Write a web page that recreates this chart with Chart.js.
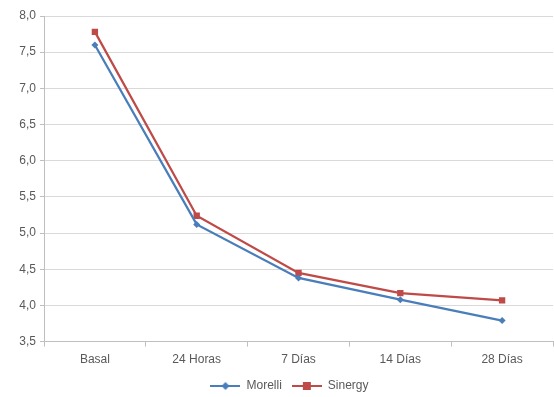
<!DOCTYPE html>
<html>
<head>
<meta charset="utf-8">
<script src="https://cdn.jsdelivr.net/npm/chart.js@4"></script>
<style>
  html, body { margin: 0; padding: 0; background: #fff; }
  #wrap { width: 554px; height: 397px; }
</style>
</head>
<body>
<div id="wrap"><canvas id="chart" width="554" height="397"></canvas></div>
<script>
const categories = ['Basal', '24 Horas', '7 Días', '14 Días', '28 Días'];
const morelli = [7.60, 5.12, 4.38, 4.08, 3.79];
const sinergy = [7.78, 5.24, 4.45, 4.17, 4.07];
const yTicks = [3.5, 4.0, 4.5, 5.0, 5.5, 6.0, 6.5, 7.0, 7.5, 8.0];

const BLUE = '#4a7ebb';
const RED = '#be4b48';

// small legend swatch: line with the marker in the middle
function swatch(color, shape) {
  const c = document.createElement('canvas');
  c.width = 30; c.height = 10;
  const g = c.getContext('2d');
  g.strokeStyle = color;
  g.lineWidth = 2;
  g.beginPath(); g.moveTo(0, 5); g.lineTo(30, 5); g.stroke();
  g.fillStyle = color;
  if (shape === 'rect') {
    g.fillRect(11, 1, 8, 8);
  } else {
    g.beginPath();
    g.moveTo(15, 1); g.lineTo(19, 5); g.lineTo(15, 9); g.lineTo(11, 5);
    g.closePath(); g.fill();
  }
  return c;
}

const font = { family: 'Liberation Sans, Arial, sans-serif', size: 12 };

new Chart(document.getElementById('chart'), {
  type: 'line',
  data: {
    labels: categories,
    datasets: [
      {
        label: 'Morelli',
        data: morelli,
        borderColor: BLUE,
        backgroundColor: BLUE,
        borderWidth: 2.25,
        pointStyle: 'rectRot',
        pointRadius: 3.5,
        pointBorderWidth: 0,
        legendStyle: swatch(BLUE, 'diamond')
      },
      {
        label: 'Sinergy',
        data: sinergy,
        borderColor: RED,
        backgroundColor: RED,
        borderWidth: 2.25,
        pointStyle: 'rect',
        pointRadius: 4.5,
        pointBorderWidth: 0,
        legendStyle: swatch(RED, 'rect')
      }
    ]
  },
  options: {
    responsive: false,
    animation: false,
    layout: { autoPadding: false, padding: { left: 0, right: 1, top: 16, bottom: -5 } },
    scales: {
      x: {
        offset: true,
        afterFit: (s) => { s.height -= 3; },
        border: { color: '#bfbfbf', width: 1 },
        grid: {
          offset: true,
          drawOnChartArea: false,
          drawTicks: true,
          tickLength: 5,
          color: '#bfbfbf'
        },
        ticks: { color: '#595959', font: font, maxRotation: 0, padding: 6 }
      },
      y: {
        min: 3.5,
        max: 8.0,
        afterFit: (s) => { s.width = 44; },
        afterBuildTicks: (s) => { s.ticks = yTicks.map(v => ({ value: v })); },
        border: { color: '#bfbfbf', width: 1 },
        grid: { color: '#d9d9d9', tickLength: 4, tickColor: '#bfbfbf' },
        ticks: {
          color: '#595959',
          font: font,
          padding: 4,
          callback: (v) => v.toFixed(1).replace('.', ',')
        }
      }
    },
    plugins: {
      legend: {
        position: 'bottom',
        labels: {
          color: '#595959',
          font: font,
          usePointStyle: true,
          pointStyleWidth: 30,
          boxHeight: 10,
          padding: 10,
          generateLabels: (c) => c.data.datasets.map((d, i) => ({
            text: d.label,
            pointStyle: d.legendStyle,
            fillStyle: d.borderColor,
            strokeStyle: d.borderColor,
            lineWidth: 0,
            fontColor: '#595959',
            datasetIndex: i
          }))
        }
      },
      tooltip: { enabled: false }
    }
  },
  plugins: [{
    id: 'legendShift',
    // legend sits a bit right of the canvas centre in the original
    afterLayout(c) {
      c.legend.left += 13;
      c.legend.right += 13;
    }
  }]
});
</script>
</body>
</html>
